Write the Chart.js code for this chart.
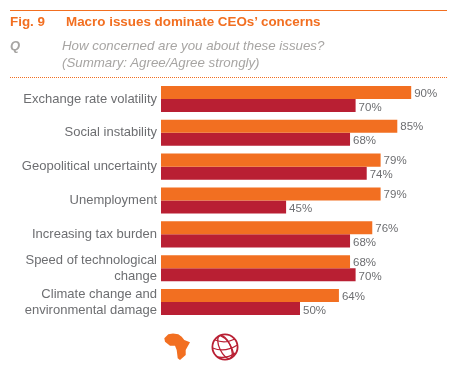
<!DOCTYPE html>
<html>
<head>
<meta charset="utf-8">
<script src="https://cdn.jsdelivr.net/npm/chart.js@4"></script>
<style>
    body { margin: 0; background: #fff; font-family: "Liberation Sans", sans-serif; }
    #page { position: relative; width: 449px; height: 369px; overflow: hidden; }
    #page canvas { position: absolute; left: 0; top: 0; }
    .txt { position: absolute; white-space: nowrap; }
    .fig { color: #f26f21; font-weight: bold; font-size: 13.4px; top: 14px; }
    .ask { color: #a7a5a3; font-style: italic; font-size: 13.3px; left: 62px; }
    #topRule { position: absolute; left: 10px; top: 10px; width: 437px; height: 1px; background: #f26f21; }
    #dotRule { position: absolute; left: 10px; top: 77px; width: 437px; border-top: 1px dotted #f26f21; }
    svg { position: absolute; }
</style>
</head>
<body>
<div id="page">
    <canvas id="chart" width="449" height="369"></canvas>
    <div id="topRule"></div>
    <span class="txt fig" style="left:10px">Fig. 9</span>
    <span class="txt fig" style="left:66px">Macro issues dominate CEOs’ concerns</span>
    <span class="txt" style="left:10px;top:38px;color:#a7a5a3;font-weight:bold;font-style:italic;font-size:13px">Q</span>
    <span class="txt ask" style="top:38px">How concerned are you about these issues?</span>
    <span class="txt ask" style="top:55px">(Summary: Agree/Agree strongly)</span>
    <div id="dotRule"></div>
    <svg style="left:162px;top:331px" width="30" height="32" viewBox="0 0 30 32">
        <path fill="#f26f21" d="M6.3 3.3 L11 2.6 L16.3 3.3 L19.7 5.7 L22.3 9 L28 11.3 L23.7 19 L23.7 24 L18 29 L15.7 27.3 L14.7 19 L13 14.7 L8 14.7 L3 10.7 L2.3 7.3 Z"/>
    </svg>
    <svg style="left:210px;top:332px" width="30" height="30" viewBox="0 0 30 30" fill="none" stroke="#b91f33" stroke-width="1.3">
        <circle cx="15" cy="15" r="12.6" stroke-width="1.8"/>
        <ellipse cx="15" cy="15" rx="5.5" ry="12.6" transform="rotate(-25 15 15)"/>
        <path d="M10 3.5 Q21 8 24 24 M5 8 Q15 12 25 7 M2.6 16 Q15 21 27.4 13 M7 25 Q17 27 25 21"/>
    </svg>
</div>
<script>
const categories = [
    "Exchange rate volatility",
    "Social instability",
    "Geopolitical uncertainty",
    "Unemployment",
    "Increasing tax burden",
    ["Speed of technological", "change"],
    ["Climate change and", "environmental damage"]
];
const africaValues = [90, 85, 79, 79, 76, 68, 64];
const globalValues = [70, 68, 74, 45, 68, 70, 50];
const africaColour = "#f26f21";
const globalColour = "#b91f33";
const textGrey = "#6d6e71";

// puts the "90%" text just past the end of each bar
const barValueLabels = {
    id: "barValueLabels",
    afterDatasetsDraw(chart) {
        const ctx = chart.ctx;
        ctx.save();
        ctx.font = "11.5px 'Liberation Sans'";
        ctx.fillStyle = textGrey;
        ctx.textBaseline = "middle";
        chart.data.datasets.forEach((ds, d) => {
            chart.getDatasetMeta(d).data.forEach((bar, i) => {
                ctx.fillText(ds.data[i] + "%", bar.x + 3, bar.y + 1 + d);
            });
        });
        ctx.restore();
    }
};

new Chart(document.getElementById("chart"), {
    type: "bar",
    data: {
        labels: categories,
        datasets: [
            {label: "Africa", data: africaValues, backgroundColor: africaColour},
            {label: "Global", data: globalValues, backgroundColor: globalColour}
        ]
    },
    options: {
        indexAxis: "y",
        responsive: false,
        animation: false,
        layout: {padding: {top: 82, bottom: 50, right: 10, left: 0}},
        categoryPercentage: 0.77,
        barPercentage: 1,
        plugins: {legend: {display: false}, tooltip: {enabled: false}},
        scales: {
            x: {display: false, min: 0, max: 100},
            y: {
                afterFit(axis) { axis.width = 161; },
                grid: {display: false, drawTicks: false},
                border: {display: false},
                ticks: {
                    color: textGrey,
                    padding: 4,
                    font: {family: "'Liberation Sans'", size: 13, lineHeight: 1.23},
                    autoSkip: false
                }
            }
        }
    },
    plugins: [barValueLabels]
});
</script>
</body>
</html>
